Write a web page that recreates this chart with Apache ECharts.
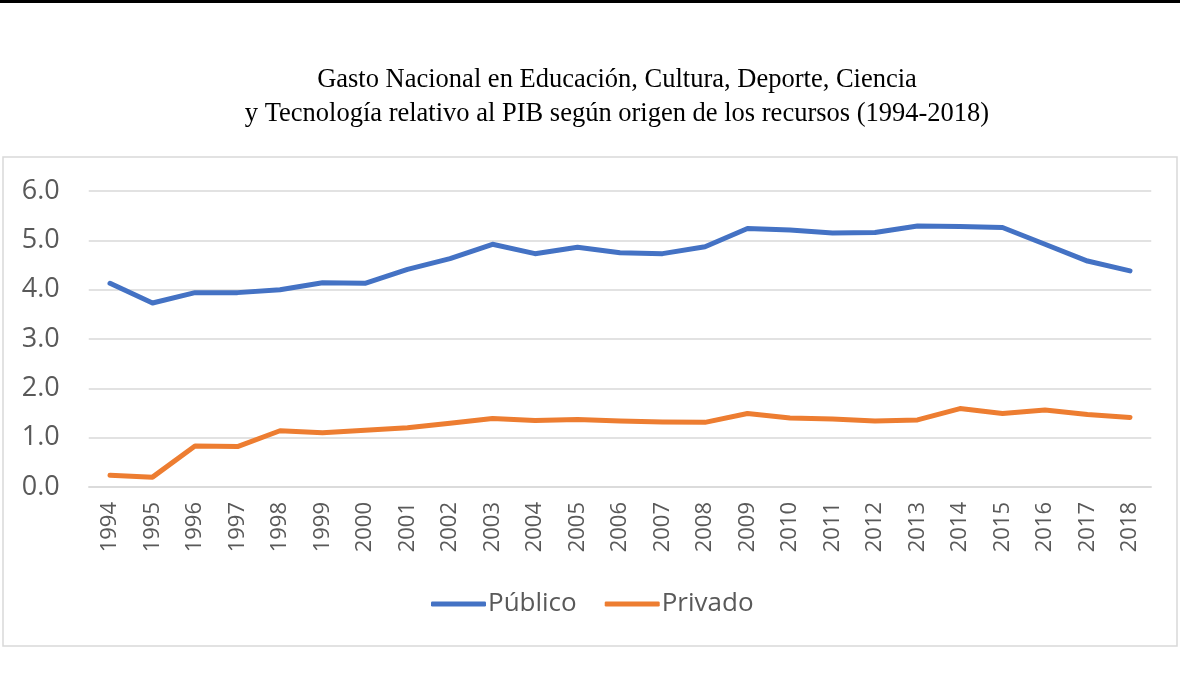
<!DOCTYPE html>
<html>
<head>
<meta charset="utf-8">
<script src="https://cdn.jsdelivr.net/npm/echarts@6/dist/echarts.min.js"></script>
<style>
  html, body { margin: 0; padding: 0; background: #fff; }
  #chart { width: 1180px; height: 694px; }
</style>
</head>
<body>
<div id="chart"></div>
<script>
const years = ['1994','1995','1996','1997','1998','1999','2000','2001','2002','2003','2004','2005','2006','2007','2008','2009','2010','2011','2012','2013','2014','2015','2016','2017','2018'];
const publico = [4.13, 3.73, 3.94, 3.94, 4.00, 4.14, 4.13, 4.41, 4.63, 4.92, 4.73, 4.86, 4.75, 4.73, 4.87, 5.24, 5.21, 5.15, 5.16, 5.29, 5.28, 5.26, 4.92, 4.58, 4.38];
const privado = [0.24, 0.20, 0.83, 0.82, 1.14, 1.10, 1.15, 1.20, 1.29, 1.39, 1.35, 1.37, 1.34, 1.32, 1.31, 1.49, 1.40, 1.38, 1.34, 1.36, 1.59, 1.49, 1.56, 1.47, 1.41];
const seriesNames = ['Público', 'Privado'];
const titleLines = ['Gasto Nacional en Educación, Cultura, Deporte, Ciencia', 'y Tecnología relativo al PIB según origen de los recursos (1994-2018)'];

const chart = echarts.init(document.getElementById('chart'), null, { renderer: 'canvas' });
chart.setOption({
  backgroundColor: '#ffffff',
  animation: false,
  title: {
    text: titleLines.join('\n'),
    left: 612,
    top: 58,
    textAlign: 'center',
    textStyle: {
      fontFamily: '"Liberation Serif", "Times New Roman", serif',
      fontSize: 26.5,
      fontWeight: 'normal',
      color: '#000000',
      lineHeight: 34
    }
  },
  graphic: [
    { type: 'rect', shape: { x: 0, y: 0, width: 1180, height: 3 }, style: { fill: '#000000' }, silent: true },
    { type: 'rect', shape: { x: 3, y: 157, width: 1174, height: 489 }, style: { fill: 'none', stroke: '#D9D9D9', lineWidth: 1.5 }, silent: true, z: -1 }
  ],
  legend: {
    data: seriesNames,
    left: 426,
    top: 586,
    icon: 'roundRect',
    itemWidth: 55,
    itemHeight: 5,
    itemGap: 28,
    textStyle: {
      fontFamily: '"Open Sans", sans-serif',
      fontSize: 26,
      color: '#595959',
      padding: [0, 0, 0, -3]
    }
  },
  grid: {
    left: 88.75,
    right: 28.75,
    top: 191,
    bottom: 207,
    containLabel: false
  },
  xAxis: {
    type: 'category',
    data: years,
    boundaryGap: true,
    axisLine: { show: true, lineStyle: { color: '#D9D9D9', width: 1.5 } },
    axisTick: { show: false },
    axisLabel: {
      rotate: 90,
      margin: 15,
      interval: 0,
      fontFamily: '"Open Sans", sans-serif',
      fontSize: 22,
      color: '#595959'
    }
  },
  yAxis: {
    type: 'value',
    min: 0,
    max: 6,
    interval: 1,
    axisLine: { show: false },
    axisTick: { show: false },
    splitLine: { lineStyle: { color: '#D9D9D9', width: 1.5 } },
    axisLabel: {
      margin: 29,
      fontFamily: '"Open Sans", sans-serif',
      fontSize: 27,
      color: '#595959',
      formatter: v => v.toFixed(1)
    }
  },
  series: [
    {
      name: seriesNames[0],
      type: 'line',
      data: publico,
      symbol: 'none',
      lineStyle: { color: '#4472C4', width: 5, cap: 'round', join: 'round' },
      itemStyle: { color: '#4472C4' }
    },
    {
      name: seriesNames[1],
      type: 'line',
      data: privado,
      symbol: 'none',
      lineStyle: { color: '#ED7D31', width: 5, cap: 'round', join: 'round' },
      itemStyle: { color: '#ED7D31' }
    }
  ]
});
</script>
</body>
</html>
